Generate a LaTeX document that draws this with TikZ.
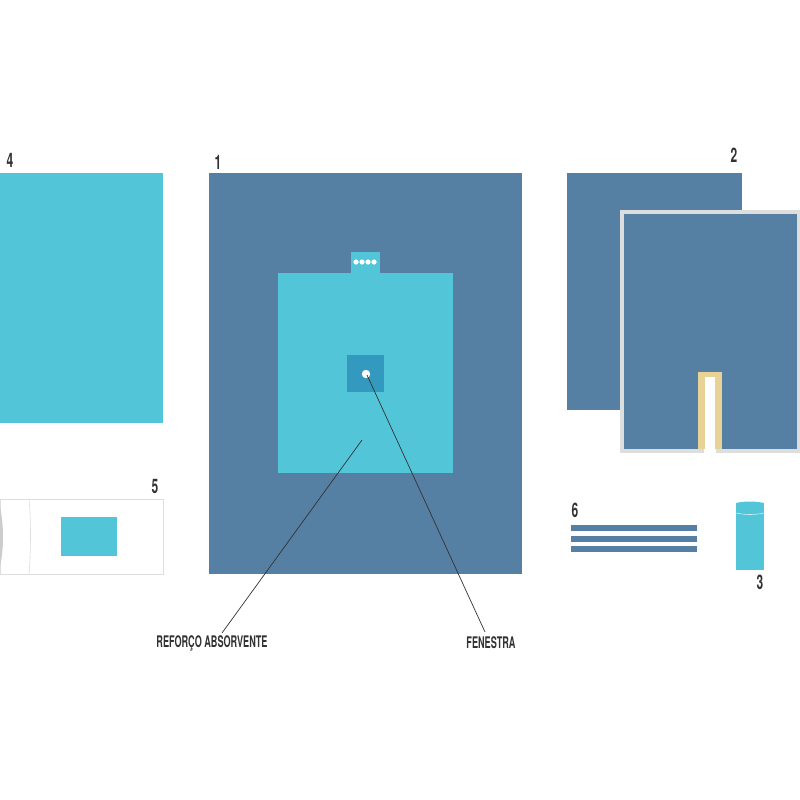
\documentclass[tikz,border=0pt]{standalone}
\usepackage{fontspec}
\setmainfont{TeX Gyre Heros}
\definecolor{dblue}{RGB}{85,128,163}
\definecolor{cyanf}{RGB}{82,198,216}
\definecolor{fen}{RGB}{52,153,190}
\definecolor{beige}{RGB}{232,210,150}
\definecolor{lgray}{RGB}{222,222,222}
\definecolor{txt}{RGB}{50,50,50}
\tikzset{
  num/.style={font=\fontsize{20}{20}\selectfont\bfseries, text=txt, inner sep=0pt, xscale=0.6},
  lab/.style={font=\fontsize{16}{16}\selectfont\bfseries, text=txt, inner sep=0pt, xscale=0.57},
  leader/.style={draw=txt, line width=0.7pt}
}
\begin{document}
\begin{tikzpicture}[x=1pt,y=-1pt]
\useasboundingbox (0,0) rectangle (800,800);
% item 4
\fill[cyanf] (0,173) rectangle (163,423);
\node[num] (n4) at (10,160) {4};
% item 1
\fill[dblue] (209,173) rectangle (522,574);
\node[num] (n1) at (218,162) {1};
\fill[cyanf] (278,273) rectangle (453,473);
\fill[cyanf] (351,252) rectangle (380,273);
\foreach \x in {356,362,368,374} \fill[white] (\x,262) circle (2.6);
\fill[fen] (347,355) rectangle (384,392);
\fill[white] (366,374) circle (4.2);
\coordinate (hole) at (367,375);
\coordinate (reinf) at (362,440);
\node[lab, anchor=center] (reforco) at (212,643) {REFORÇO ABSORVENTE};
\node[lab, anchor=center] (fenestra) at (491,643) {FENESTRA};
\coordinate (r1) at (222,633);
\coordinate (f1) at (485,632);
\draw[leader] (reinf) -- (r1);
\draw[leader] (hole) -- (f1);
% item 2
\fill[dblue] (567,173) rectangle (742,410);
\fill[lgray] (620,210) rectangle (800,453);
\fill[dblue] (624,214) rectangle (797,449);
\fill[beige] (698,372) rectangle (722,453);
\fill[white] (705,377) rectangle (715,453);
\fill[lgray] (698,449) rectangle (705,453);
\fill[lgray] (715,449) rectangle (722,453);
\fill[white] (704,449) rectangle (716,453);
\node[num] (n2) at (734,155) {2};
% item 5
\draw[lgray, fill=white, line width=0.6pt] (0,499) rectangle (163,574);
\draw[lgray, line width=0.6pt] (29,499) .. controls (31,520) and (31,550) .. (29,574);
\fill[gray!40] (0,507) .. controls (4,525) and (4,550) .. (0,566) -- cycle;
\fill[cyanf] (61,517) rectangle (117,556);
\node[num] (n5) at (155,486) {5};
% item 6
\foreach \y in {525,536,546} \fill[dblue] (571,\y) rectangle (697,\y+5.5);
\node[num] (n6) at (575,510) {6};
% item 3
\fill[cyanf] (736,503) rectangle (764,570);
\fill[cyanf] (736,503) .. controls (745,501) and (755,501) .. (764,503);
\draw[white!70!cyanf, line width=0.6pt] (736,513) .. controls (745,515) and (755,515) .. (764,513);
\node[num] (n3) at (760,582) {3};
\end{tikzpicture}
\end{document}
